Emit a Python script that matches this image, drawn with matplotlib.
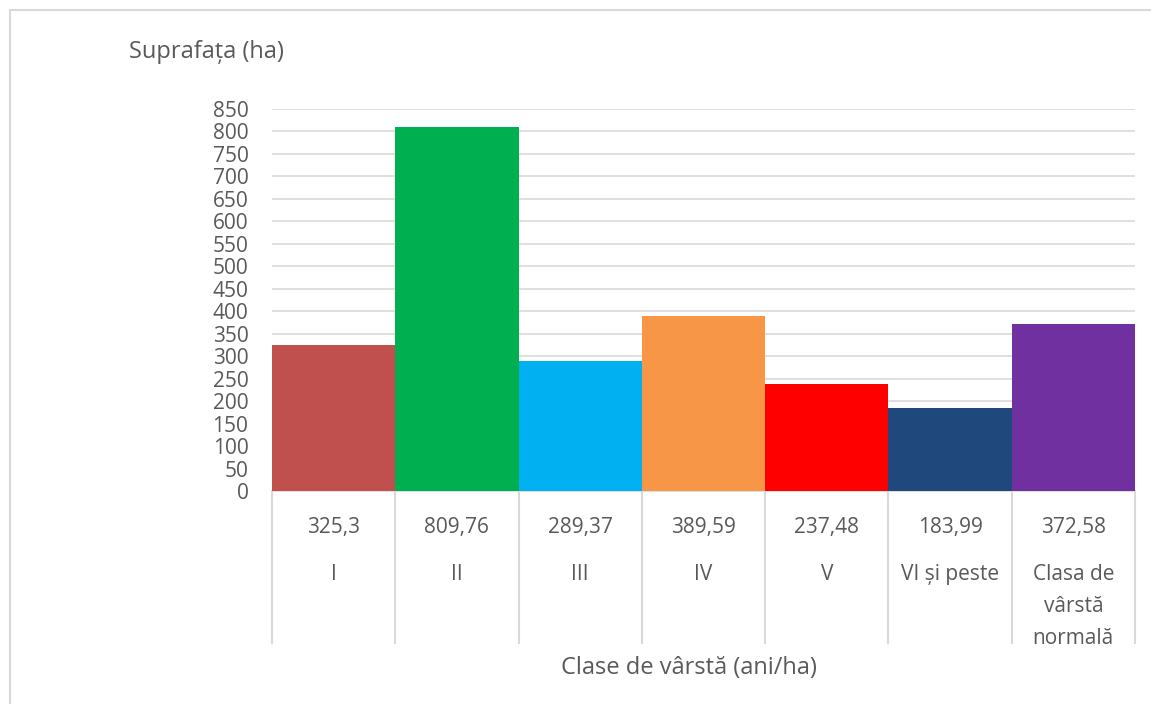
import matplotlib.pyplot as plt
from matplotlib.lines import Line2D

# date
clase = ['I', 'II', 'III', 'IV', 'V', 'VI și peste', 'Clasa de\nvârstă\nnormală']
suprafata = [325.3, 809.76, 289.37, 389.59, 237.48, 183.99, 372.58]
culori = ['#C0504D', '#00B050', '#00B0F0', '#F79646', '#FF0000', '#1F497D', '#7030A0']
y_ticks = list(range(0, 851, 50))

plt.rcParams['font.family'] = ['Open Sans', 'DejaVu Sans']
gri = '#595959'

fig = plt.figure(figsize=(11.51, 7.04), dpi=100)
W, H = 1151, 704
ax = fig.add_axes([272 / W, 1 - 491 / H, (1135 - 272) / W, (491 - 109) / H])

x = list(range(len(clase)))
ax.bar(x, suprafata, width=1.0, color=culori, zorder=3)
ax.set_xlim(-0.5, len(clase) - 0.5)
ax.set_ylim(0, 850)
ax.set_yticks(y_ticks)
ax.tick_params(axis='y', length=0, pad=17, labelsize=15, labelcolor=gri)
ax.set_xticks([])
ax.grid(axis='y', color='#D9D9D9', linewidth=1.2, zorder=0)
for s in ['top', 'right', 'left']:
    ax.spines[s].set_visible(False)
ax.spines['bottom'].set_color('#D9D9D9')
ax.spines['bottom'].set_linewidth(1.2)

# tabelul de sub axa x
tr = ax.get_xaxis_transform()
y_jos = -(643 - 491) / 382
for b in [i - 0.5 for i in range(len(clase) + 1)]:
    ax.plot([b, b], [0, y_jos], transform=tr, color='#D9D9D9', lw=1.5, clip_on=False)
for i, (c, v) in enumerate(zip(clase, suprafata)):
    ax.text(i, -(527 - 491) / 382, f'{v:g}'.replace('.', ','), transform=tr,
            ha='center', va='center', fontsize=15, color=gri)
    ax.text(i, -(564 - 491) / 382, c, transform=tr, ha='center', va='top',
            fontsize=15, color=gri, linespacing=1.7)

fig.text(689 / W, 1 - 668 / H, 'Clase de vârstă (ani/ha)', ha='center', va='center',
         fontsize=17, color=gri)
fig.text(206 / W, 1 - 52 / H, 'Suprafața (ha)', ha='center', va='center',
         fontsize=17, color=gri)

# chenar
fig.add_artist(Line2D([9.5 / W, 1], [1 - 10 / H, 1 - 10 / H], color='#D9D9D9', lw=1.5))
fig.add_artist(Line2D([9.5 / W, 9.5 / W], [0, 1 - 10 / H], color='#D9D9D9', lw=1.5))

fig.savefig('out.png', dpi=100)
